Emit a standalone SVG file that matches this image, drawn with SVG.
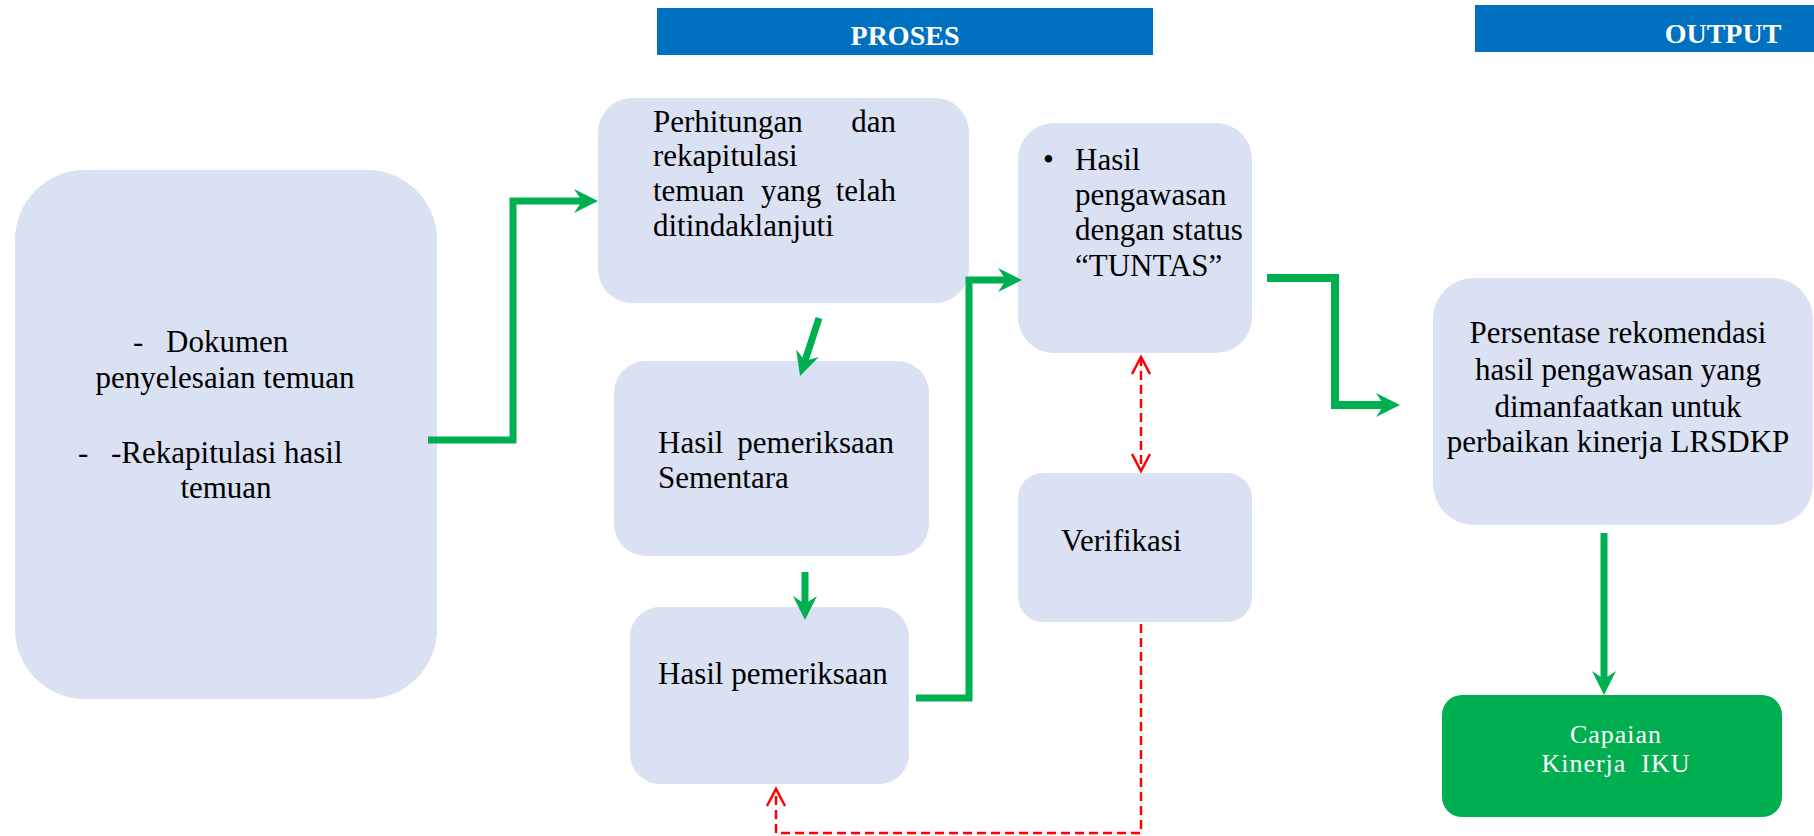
<svg xmlns="http://www.w3.org/2000/svg" width="1814" height="836" viewBox="0 0 1814 836">
<style>
.box{fill:#DAE1F3;}
.t{font-family:"Liberation Serif",serif;font-size:31px;fill:#000;}
.tc{text-anchor:middle;}
.te{text-anchor:end;}
.hdr{font-family:"Liberation Serif",serif;font-size:28px;font-weight:bold;fill:#fff;text-anchor:middle;}
.w{fill:#fff;font-size:26px;letter-spacing:1px;white-space:pre;}
.g{fill:none;stroke:#00B050;stroke-width:7;stroke-linejoin:miter;}
.r{fill:none;stroke:#FF0000;stroke-width:2.5;stroke-dasharray:9 5;}
</style>
<defs>
<marker id="ga" markerUnits="userSpaceOnUse" viewBox="0 0 24 24" refX="10" refY="12" markerWidth="24" markerHeight="24" orient="auto">
<path d="M0,0 L24,12 L0,24 L8,12 Z" fill="#00B050"/>
</marker>
<marker id="ra" markerUnits="userSpaceOnUse" viewBox="-2 -11 22 22" refX="17" refY="0" markerWidth="22" markerHeight="22" orient="auto-start-reverse">
<path d="M0,-9 L17,0 L0,9" fill="none" stroke="#FF0000" stroke-width="2.5"/>
</marker>
</defs>

<g id="header-proses">
<rect x="657" y="8" width="496" height="47" fill="#0070C0"/>
<text class="hdr" x="905" y="45">PROSES</text>
</g>
<g id="header-output">
<rect x="1475" y="5" width="339" height="47" fill="#0070C0"/>
<text class="hdr" x="1723" y="43">OUTPUT</text>
</g>

<g id="node-input">
<rect class="box" x="15" y="170" width="422" height="529" rx="70" ry="70"/>
<text class="t" x="133" y="352">-</text>
<text class="t" x="166" y="352">Dokumen</text>
<text class="t tc" x="225" y="388">penyelesaian temuan</text>
<text class="t" x="78" y="463">-</text>
<text class="t" x="111" y="463">-Rekapitulasi hasil</text>
<text class="t tc" x="226" y="498">temuan</text>
</g>

<g id="node-perhitungan">
<rect class="box" x="598" y="98" width="371" height="205" rx="34" ry="34"/>
<text class="t" x="653" y="132">Perhitungan</text>
<text class="t te" x="896" y="132">dan</text>
<text class="t" x="653" y="166">rekapitulasi</text>
<text class="t" x="653" y="201">temuan</text>
<text class="t" x="761" y="201">yang</text>
<text class="t te" x="896" y="201">telah</text>
<text class="t" x="653" y="236">ditindaklanjuti</text>
</g>

<g id="node-sementara">
<rect class="box" x="614" y="361" width="315" height="195" rx="32" ry="32"/>
<text class="t" x="658" y="453">Hasil</text>
<text class="t te" x="894" y="453">pemeriksaan</text>
<text class="t" x="658" y="488">Sementara</text>
</g>

<g id="node-pemeriksaan">
<rect class="box" x="630" y="607" width="279" height="177" rx="30" ry="30"/>
<text class="t" x="658" y="684">Hasil pemeriksaan</text>
</g>

<g id="node-tuntas">
<rect class="box" x="1018" y="123" width="234" height="230" rx="36" ry="36"/>
<text class="t" x="1043" y="170">•</text>
<text class="t" x="1075" y="170">Hasil</text>
<text class="t" x="1075" y="205">pengawasan</text>
<text class="t" x="1075" y="240">dengan status</text>
<text class="t" x="1075" y="276">“TUNTAS”</text>
</g>

<g id="node-verifikasi">
<rect class="box" x="1018" y="473" width="234" height="149" rx="25" ry="25"/>
<text class="t" x="1061" y="551">Verifikasi</text>
</g>

<g id="node-persentase">
<rect class="box" x="1433" y="278" width="380" height="247" rx="41" ry="41"/>
<text class="t tc" x="1618" y="343">Persentase rekomendasi</text>
<text class="t tc" x="1618" y="380">hasil pengawasan yang</text>
<text class="t tc" x="1618" y="417">dimanfaatkan untuk</text>
<text class="t tc" x="1618" y="452">perbaikan kinerja LRSDKP</text>
</g>

<g id="node-capaian">
<rect x="1442" y="695" width="340" height="122" rx="20" ry="20" fill="#00B050"/>
<text class="t tc w" x="1616" y="743">Capaian</text>
<text class="t tc w" x="1616" y="772">Kinerja  IKU</text>
</g>

<g id="connectors">
<path class="g" d="M428,440 H513 V201 H584" marker-end="url(#ga)"/>
<path class="g" d="M819,318 L804.4,362.7" marker-end="url(#ga)"/>
<path class="g" d="M805,572 V606" marker-end="url(#ga)"/>
<path class="g" d="M916,698 H969 V280 H1008" marker-end="url(#ga)"/>
<path class="g" d="M1267,278 H1335 V405 H1386" style="stroke-width:8" marker-end="url(#ga)"/>
<path class="g" d="M1604,533 V681" marker-end="url(#ga)"/>
<path class="r" d="M1141,357 V471" marker-start="url(#ra)" marker-end="url(#ra)"/>
<path class="r" d="M1141,624 V833 H776 V789" marker-end="url(#ra)"/>
</g>
</svg>
